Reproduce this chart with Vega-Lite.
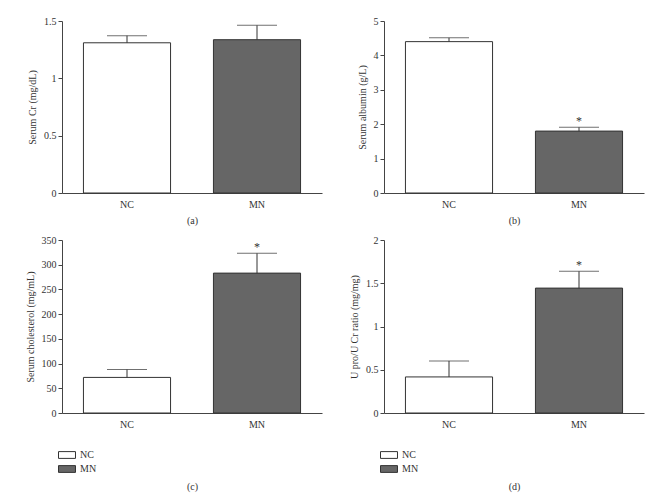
{
  "$schema": "https://vega.github.io/schema/vega-lite/v6.json",
  "background": "white",
  "padding": {"left": 25, "top": 13, "right": 5, "bottom": 5},
  "config": {
    "font": "Liberation Serif",
    "view": {"stroke": null},
    "axis": {
      "labelFont": "Liberation Serif",
      "titleFont": "Liberation Serif",
      "labelFontSize": 10,
      "titleFontSize": 10,
      "titleFontWeight": "normal",
      "labelColor": "#333",
      "titleColor": "#333",
      "domainColor": "#444",
      "tickColor": "#444",
      "labelOverlap": false,
      "grid": false
    },
    "axisY": {"tickSize": 4, "labelPadding": 2, "titlePadding": 6},
    "axisX": {"ticks": false, "labelAngle": 0, "labelPadding": 6},
    "legend": {
      "labelFont": "Liberation Serif",
      "labelFontSize": 10,
      "labelColor": "#333"
    }
  },
  "columns": 2,
  "spacing": {"row": 47, "column": 62},
  "bounds": "flush",
  "resolve": {"scale": {"fill": "independent"}, "legend": {"fill": "independent"}},
  "concat": [
        {
          "width": 260, "height": 172,
          "data": {"values": [
            {"group": "NC", "mean": 1.31, "upper": 1.372, "sig": ""},
            {"group": "MN", "mean": 1.337, "upper": 1.462, "sig": ""}
          ]},
          "encoding": {
            "x": {"field": "group", "type": "nominal", "sort": ["NC", "MN"],
                  "scale": {"paddingInner": 0.33, "paddingOuter": 0.165},
                  "axis": {"title": "(a)", "titlePadding": 6}},
            "y": {"field": "mean", "type": "quantitative", "scale": {"domain": [0, 1.5], "nice": false},
                  "axis": {"title": "Serum Cr (mg/dL)", "values": [0, 0.5, 1, 1.5], "format": "~g"}}
          },
          "layer": [
            {"mark": {"type": "bar", "stroke": "#333", "strokeWidth": 1},
             "encoding": {
               "fill": {"field": "group", "type": "nominal", "scale": {"domain": ["NC", "MN"], "range": ["#ffffff", "#666666"]}, "legend": null}
             }},
            {"mark": {"type": "rule", "color": "#333"},
             "encoding": {"y2": {"field": "upper"}}},
            {"mark": {"type": "tick", "orient": "horizontal", "size": 40, "thickness": 1, "color": "#333"},
             "encoding": {"y": {"field": "upper", "type": "quantitative", "axis": {"title": "Serum Cr (mg/dL)", "values": [0, 0.5, 1, 1.5], "format": "~g"}}}},
            {"mark": {"type": "text", "dy": -2, "baseline": "alphabetic", "fontSize": 12, "color": "#333"},
             "encoding": {"y": {"field": "upper", "type": "quantitative", "axis": {"title": "Serum Cr (mg/dL)", "values": [0, 0.5, 1, 1.5], "format": "~g"}}, "text": {"field": "sig"}}}
          ]
        },
        {
          "width": 260, "height": 172,
          "data": {"values": [
            {"group": "NC", "mean": 4.4, "upper": 4.51, "sig": ""},
            {"group": "MN", "mean": 1.8, "upper": 1.91, "sig": "*"}
          ]},
          "encoding": {
            "x": {"field": "group", "type": "nominal", "sort": ["NC", "MN"],
                  "scale": {"paddingInner": 0.33, "paddingOuter": 0.165},
                  "axis": {"title": "(b)", "titlePadding": 6}},
            "y": {"field": "mean", "type": "quantitative", "scale": {"domain": [0, 5], "nice": false},
                  "axis": {"title": "Serum albumin (g/L)", "values": [0, 1, 2, 3, 4, 5], "format": "~g"}}
          },
          "layer": [
            {"mark": {"type": "bar", "stroke": "#333", "strokeWidth": 1},
             "encoding": {
               "fill": {"field": "group", "type": "nominal", "scale": {"domain": ["NC", "MN"], "range": ["#ffffff", "#666666"]}, "legend": null}
             }},
            {"mark": {"type": "rule", "color": "#333"},
             "encoding": {"y2": {"field": "upper"}}},
            {"mark": {"type": "tick", "orient": "horizontal", "size": 40, "thickness": 1, "color": "#333"},
             "encoding": {"y": {"field": "upper", "type": "quantitative", "axis": {"title": "Serum albumin (g/L)", "values": [0, 1, 2, 3, 4, 5], "format": "~g"}}}},
            {"mark": {"type": "text", "dy": -2, "baseline": "alphabetic", "fontSize": 12, "color": "#333"},
             "encoding": {"y": {"field": "upper", "type": "quantitative", "axis": {"title": "Serum albumin (g/L)", "values": [0, 1, 2, 3, 4, 5], "format": "~g"}}, "text": {"field": "sig"}}}
          ]
        },
        {
          "width": 260, "height": 173,
          "data": {"values": [
            {"group": "NC", "mean": 72, "upper": 88, "sig": ""},
            {"group": "MN", "mean": 283, "upper": 323, "sig": "*"}
          ]},
          "encoding": {
            "x": {"field": "group", "type": "nominal", "sort": ["NC", "MN"],
                  "scale": {"paddingInner": 0.33, "paddingOuter": 0.165},
                  "axis": {"title": "(c)", "titlePadding": 52}},
            "y": {"field": "mean", "type": "quantitative", "scale": {"domain": [0, 350], "nice": false},
                  "axis": {"title": "Serum cholesterol (mg/mL)", "values": [0, 50, 100, 150, 200, 250, 300, 350]}}
          },
          "layer": [
            {"mark": {"type": "bar", "stroke": "#333", "strokeWidth": 1},
             "encoding": {
               "fill": {"field": "group", "type": "nominal", "scale": {"domain": ["NC", "MN"], "range": ["#ffffff", "#666666"]},
                        "legend": {"title": null, "orient": "none", "legendX": 0, "legendY": 210,
                                   "symbolType": "M-2,-0.8H2V0.8H-2Z", "symbolSize": 72,
                                   "symbolStrokeColor": "#333", "symbolStrokeWidth": 1,
                                   "labelOffset": 8, "rowPadding": 2}}
             }},
            {"mark": {"type": "rule", "color": "#333"},
             "encoding": {"y2": {"field": "upper"}}},
            {"mark": {"type": "tick", "orient": "horizontal", "size": 40, "thickness": 1, "color": "#333"},
             "encoding": {"y": {"field": "upper", "type": "quantitative", "axis": {"title": "Serum cholesterol (mg/mL)", "values": [0, 50, 100, 150, 200, 250, 300, 350]}}}},
            {"mark": {"type": "text", "dy": -2, "baseline": "alphabetic", "fontSize": 12, "color": "#333"},
             "encoding": {"y": {"field": "upper", "type": "quantitative", "axis": {"title": "Serum cholesterol (mg/mL)", "values": [0, 50, 100, 150, 200, 250, 300, 350]}}, "text": {"field": "sig"}}}
          ]
        },
        {
          "width": 260, "height": 173,
          "data": {"values": [
            {"group": "NC", "mean": 0.417, "upper": 0.602, "sig": ""},
            {"group": "MN", "mean": 1.444, "upper": 1.638, "sig": "*"}
          ]},
          "encoding": {
            "x": {"field": "group", "type": "nominal", "sort": ["NC", "MN"],
                  "scale": {"paddingInner": 0.33, "paddingOuter": 0.165},
                  "axis": {"title": "(d)", "titlePadding": 52}},
            "y": {"field": "mean", "type": "quantitative", "scale": {"domain": [0, 2], "nice": false},
                  "axis": {"title": "U pro/U Cr ratio (mg/mg)", "values": [0, 0.5, 1, 1.5, 2], "format": "~g"}}
          },
          "layer": [
            {"mark": {"type": "bar", "stroke": "#333", "strokeWidth": 1},
             "encoding": {
               "fill": {"field": "group", "type": "nominal", "scale": {"domain": ["NC", "MN"], "range": ["#ffffff", "#666666"]},
                        "legend": {"title": null, "orient": "none", "legendX": 0, "legendY": 210,
                                   "symbolType": "M-2,-0.8H2V0.8H-2Z", "symbolSize": 72,
                                   "symbolStrokeColor": "#333", "symbolStrokeWidth": 1,
                                   "labelOffset": 8, "rowPadding": 2}}
             }},
            {"mark": {"type": "rule", "color": "#333"},
             "encoding": {"y2": {"field": "upper"}}},
            {"mark": {"type": "tick", "orient": "horizontal", "size": 40, "thickness": 1, "color": "#333"},
             "encoding": {"y": {"field": "upper", "type": "quantitative", "axis": {"title": "U pro/U Cr ratio (mg/mg)", "values": [0, 0.5, 1, 1.5, 2], "format": "~g"}}}},
            {"mark": {"type": "text", "dy": -2, "baseline": "alphabetic", "fontSize": 12, "color": "#333"},
             "encoding": {"y": {"field": "upper", "type": "quantitative", "axis": {"title": "U pro/U Cr ratio (mg/mg)", "values": [0, 0.5, 1, 1.5, 2], "format": "~g"}}, "text": {"field": "sig"}}}
          ]
        }
  ]
}
